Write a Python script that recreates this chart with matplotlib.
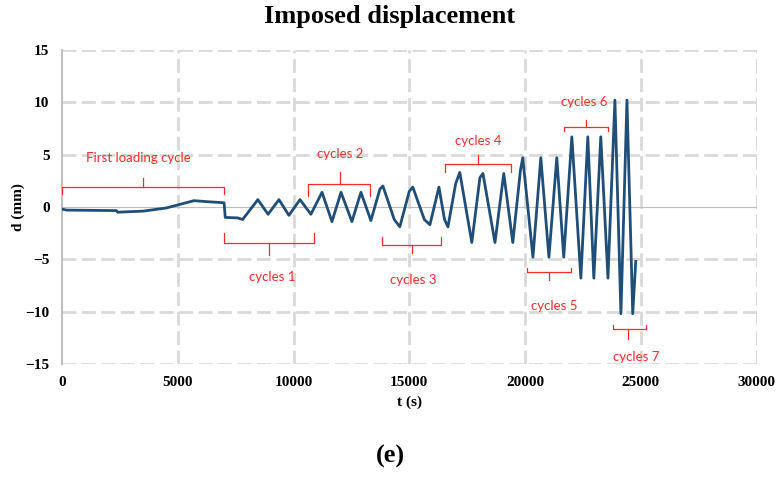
import numpy as np
import matplotlib
matplotlib.use("Agg")
import matplotlib.pyplot as plt

# imposed displacement history
t_pts = [0, 200, 2350, 2400, 3500, 4500, 5700, 6300, 7000, 7050, 7600, 7800,
         8460, 8900, 9370, 9800, 10280, 10750,
         11230, 11660, 12050, 12520, 12910, 13340,
         13730, 13860, 14350, 14590, 15000, 15150, 15650, 15890, 16280, 16520, 16670,
         17000, 17180, 17700, 18050, 18180, 18700, 19080, 19470,
         19800, 19900, 20340, 20680, 21030, 21370, 21670,
         22020, 22410, 22710, 22970, 23270, 23580,
         23880, 24140, 24400, 24650, 24780]
d_pts = [-0.2, -0.3, -0.35, -0.5, -0.4, -0.1, 0.6, 0.5, 0.4, -1.0, -1.05, -1.2,
         0.7, -0.7, 0.7, -0.8, 0.7, -0.7,
         1.4, -1.4, 1.4, -1.4, 1.4, -1.3,
         1.7, 2.0, -1.2, -1.9, 1.5, 1.9, -1.2, -1.7, 1.9, -1.2, -1.9,
         2.2, 3.3, -3.4, 2.8, 3.2, -3.4, 3.2, -3.4,
         3.5, 4.7, -4.8, 4.7, -4.8, 4.7, -4.8,
         6.7, -6.8, 6.7, -6.8, 6.7, -6.8,
         10.2, -10.2, 10.2, -10.2, -5.2]

# brace annotations: label, t start, t end, t of tip, y ends, y bar, y tip, y label
labels = ["First loading cycle", "cycles 1", "cycles 2", "cycles 3", "cycles 4",
          "cycles 5", "cycles 6", "cycles 7"]
br_t0 = [0, 7000, 10620, 13820, 16540, 20080, 21680, 23790]
br_t1 = [7000, 10880, 13300, 16370, 19390, 21980, 23580, 25220]
br_tip = [3500, 8950, 12000, 15110, 17960, 21030, 22620, 24440]
br_end = [1.25, -2.5, 1.0, -2.9, 3.3, -5.8, 7.3, -11.3]
br_bar = [1.9, -3.4, 2.2, -3.6, 4.1, -6.2, 7.6, -11.7]
br_top = [2.8, -4.6, 3.3, -4.4, 5.0, -7.0, 8.3, -12.6]
lab_y = [4.7, -6.7, 5.1, -7.0, 6.3, -9.5, 10.0, -14.3]
lab_t = [3300, 9100, 12000, 15150, 17960, 21250, 22550, 24800]

fig = plt.figure(figsize=(7.8, 4.8), dpi=100)
ax = fig.add_axes([0.0795, 0.2417, 0.8905, 0.6543])

grid_kw = dict(color='#d9d9d9', lw=2.0, dashes=(5, 2), zorder=0)
for gx in range(5000, 30001, 5000):
    ax.axvline(gx, **grid_kw)
for gy in [-15, -10, -5, 5, 10, 15]:
    ax.axhline(gy, **grid_kw)
ax.axhline(0, color='#bfbfbf', lw=0.8, zorder=1)

ax.plot(t_pts, d_pts, color='#1f4e79', lw=2.0, zorder=3)

red = '#ff2a2a'
for i in range(len(labels)):
    t0, t1, tm = br_t0[i], br_t1[i], br_tip[i]
    ax.plot([t0, t0, t1, t1], [br_end[i], br_bar[i], br_bar[i], br_end[i]],
            color=red, lw=0.9, zorder=4)
    ax.plot([tm, tm], [br_bar[i], br_top[i]], color=red, lw=0.9, zorder=4)
    ax.text(lab_t[i], lab_y[i], labels[i], color=red, fontsize=9.5,
            family='Lato', ha='center', va='center')

ax.set_xlim(0, 30000)
ax.set_ylim(-15, 15)
ax.set_xticks(range(0, 30001, 5000))
ax.set_yticks(range(-15, 16, 5))
for s in ['top', 'right', 'bottom']:
    ax.spines[s].set_visible(False)
ax.spines['left'].set_color('#bfbfbf')
ax.spines['left'].set_linewidth(1.5)
ax.tick_params(length=0, pad=9)
for lab in ax.get_xticklabels() + ax.get_yticklabels():
    lab.set_fontfamily('Liberation Serif')
    lab.set_fontweight('bold')
    lab.set_fontsize(11)

ax.set_xlabel('t (s)', family='Liberation Serif', weight='bold', fontsize=11, labelpad=4)
ax.set_ylabel('d (mm)', family='Liberation Serif', weight='bold', fontsize=11, labelpad=0)
fig.text(0.5, 0.965, 'Imposed displacement', family='Liberation Serif', weight='bold',
         fontsize=19, ha='center', va='center')
fig.text(0.5, 0.05, '(e)', family='Liberation Serif', weight='bold',
         fontsize=19, ha='center', va='center')

fig.savefig('out.png', dpi=100)
